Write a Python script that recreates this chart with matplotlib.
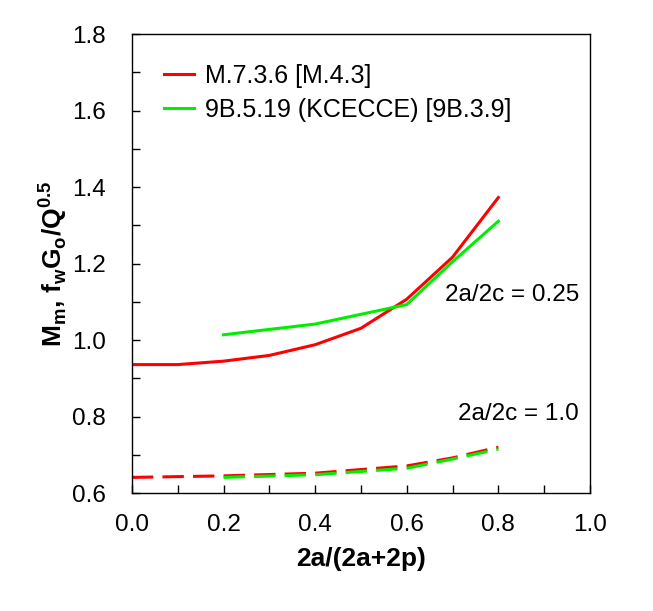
import matplotlib
matplotlib.use("Agg")
import matplotlib.pyplot as plt
from matplotlib.ticker import MultipleLocator

plt.rcParams["font.family"] = ["Liberation Sans", "DejaVu Sans"]
plt.rcParams["mathtext.fontset"] = "custom"
plt.rcParams["mathtext.rm"] = "Liberation Sans"
plt.rcParams["mathtext.bf"] = "Liberation Sans:bold"

# 2a/2c = 0.25 (solid)
red_x = [0.0, 0.1, 0.2, 0.3, 0.4, 0.5, 0.6, 0.7, 0.8]
red_y = [0.936, 0.936, 0.945, 0.960, 0.988, 1.031, 1.107, 1.217, 1.373]
green_x = [0.2, 0.4, 0.6, 0.7, 0.8]
green_y = [1.014, 1.042, 1.093, 1.205, 1.311]

# 2a/2c = 1.0 (dashed)
red_dx = [0.0, 0.2, 0.4, 0.6, 0.7, 0.8]
red_dy = [0.641, 0.645, 0.652, 0.671, 0.692, 0.720]
green_dx = [0.2, 0.4, 0.6, 0.7, 0.8]
green_dy = [0.641, 0.648, 0.665, 0.689, 0.715]

RED = "#ff0000"
GREEN = "#00ee00"
FS = 17.5

fig = plt.figure(figsize=(6.53, 6.11), dpi=100)
ax = fig.add_axes([0.202, 0.193, 0.7015, 0.751])

ax.plot(red_x, red_y, color=RED, lw=2.2, label="M.7.3.6 [M.4.3]")
ax.plot(green_x, green_y, color=GREEN, lw=2.2, label="9B.5.19 (KCECCE) [9B.3.9]")
ax.plot(red_dx, red_dy, color=RED, lw=2.2, dashes=(7, 3))
ax.plot(green_dx, green_dy, color=GREEN, lw=2.2, dashes=(7, 3))

ax.set_xlim(0, 1.0)
ax.set_ylim(0.6, 1.8)
ax.xaxis.set_major_locator(MultipleLocator(0.2))
ax.xaxis.set_minor_locator(MultipleLocator(0.1))
ax.yaxis.set_major_locator(MultipleLocator(0.2))
ax.yaxis.set_minor_locator(MultipleLocator(0.1))
ax.xaxis.set_major_formatter(lambda v, p: f"{v:.1f}")
ax.yaxis.set_major_formatter(lambda v, p: f"{v:.1f}")
ax.tick_params(which="both", direction="in", length=6, width=1, labelsize=FS)
ax.tick_params(axis="x", pad=15)
ax.tick_params(axis="y", pad=19)
for s in ax.spines.values():
    s.set_linewidth(1)

ax.set_xlabel("2a/(2a+2p)", fontsize=19, fontweight="bold", labelpad=8)
ax.set_ylabel(r"M$_\mathbf{m}$, f$_\mathbf{w}$G$_\mathbf{o}$/Q$^\mathbf{0.5}$",
              fontsize=19, fontweight="bold", labelpad=2)

ax.text(0.976, 1.118, "2a/2c = 0.25", fontsize=FS, ha="right", va="center")
ax.text(0.976, 0.807, "2a/2c = 1.0", fontsize=FS, ha="right", va="center")

ax.legend(loc="upper left", frameon=False, fontsize=18, handlelength=1.2,
          handletextpad=0.45, labelspacing=0.4, borderaxespad=0.0,
          bbox_to_anchor=(0.048, 0.957))

fig.savefig("out.png", dpi=100)
